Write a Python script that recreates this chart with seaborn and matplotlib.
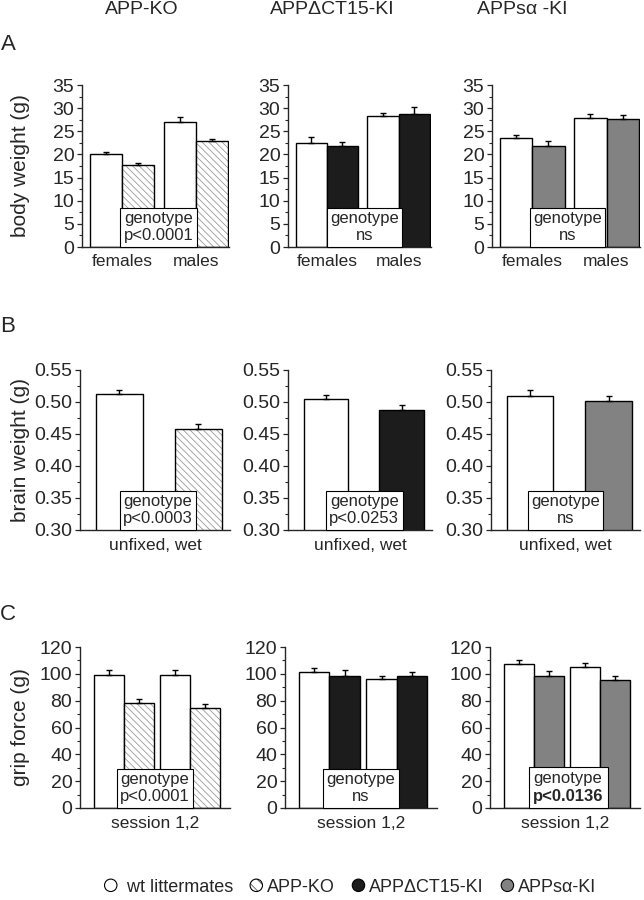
import numpy as np
import pandas as pd
import seaborn as sns
import matplotlib.pyplot as plt
import matplotlib.patches as mpatches
import matplotlib.colors as mcolors
from matplotlib.legend_handler import HandlerPatch
from matplotlib.ticker import MultipleLocator, AutoMinorLocator, FormatStrFormatter

# -----------------------------
# Data (means and SEM)
# -----------------------------
WT = "wt littermates"
mutants = ["APP-KO", "APPΔCT15-KI", "APPsα-KI"]
titles = ["APP-KO", "APPΔCT15-KI", "APPsα -KI"]

sexes = ["females", "males"]
bw_wt = [[20.0, 27.1], [22.4, 28.4], [23.5, 27.8]]
bw_wt_err = [[0.6, 0.9], [1.4, 0.6], [0.7, 1.0]]
bw_mut = [[17.8, 22.9], [21.9, 28.8], [21.9, 27.7]]
bw_mut_err = [[0.45, 0.4], [0.7, 1.4], [0.9, 0.8]]
bw_p = ["p<0.0001", "ns", "ns"]

brain_wt = [0.513, 0.505, 0.5095]
brain_wt_err = [0.0065, 0.006, 0.0085]
brain_mut = [0.458, 0.487, 0.502]
brain_mut_err = [0.007, 0.008, 0.007]
brain_p = ["p<0.0003", "p<0.0253", "ns"]

sessions = ["1", "2"]
grip_wt = [[99.4, 99.4], [101.7, 96.0], [107.6, 105.1]]
grip_wt_err = [[3.2, 3.2], [2.5, 2.5], [2.4, 3.2]]
grip_mut = [[78.3, 74.5], [98.5, 98.5], [98.1, 95.2]]
grip_mut_err = [[2.7, 3.3], [4.2, 2.5], [3.8, 2.9]]
grip_p = ["p<0.0001", "ns", "p<0.0136"]
bold_p = ["p<0.0136"]

palette = {WT: "white", "APP-KO": "white",
           "APPΔCT15-KI": "#1c1c1c", "APPsα-KI": "#828282"}
HATCH = "\\" * 5
HATCH_COLOR = "#9a9a9a"

# -----------------------------
# Style
# -----------------------------
sns.set_style("ticks")
plt.rcParams["font.family"] = ["Liberation Sans", "DejaVu Sans"]
plt.rcParams["hatch.linewidth"] = 0.6

W, H = 644, 900
fig = plt.figure(figsize=(W / 100, H / 100), dpi=100)


def add_ax(left, right, top, bottom):
    return fig.add_axes([left / W, 1 - bottom / H, (right - left) / W, (bottom - top) / H])


def draw_panel(ax, groups, wt_vals, wt_err, mut_vals, mut_err, mutant, width):
    rows = []
    for g, wv, we, mv, me in zip(groups, wt_vals, wt_err, mut_vals, mut_err):
        rows.append(dict(group=g, genotype=WT, value=wv, err=we))
        rows.append(dict(group=g, genotype=mutant, value=mv, err=me))
    df = pd.DataFrame(rows)
    xcol = "group" if len(groups) > 1 else "genotype"
    order = groups if len(groups) > 1 else [WT, mutant]
    sns.barplot(data=df, x=xcol, y="value", hue="genotype", order=order,
                hue_order=[WT, mutant], palette=palette, width=width,
                errorbar=None, legend=False, saturation=1,
                edgecolor="black", linewidth=1.0, ax=ax)
    bars = sorted(ax.patches, key=lambda p: p.get_x())
    for p, (_, r) in zip(bars, df.iterrows()):
        if r.genotype == "APP-KO":
            p.set_hatch(HATCH)
            p._hatch_color = mcolors.to_rgba(HATCH_COLOR)
        cx = p.get_x() + p.get_width() / 2
        ax.errorbar(cx, r.value, yerr=[[0], [r.err]], fmt="none", ecolor="black",
                    elinewidth=1.0, capsize=2, capthick=1.0, zorder=3)
    sns.despine(ax=ax)
    for s in ["left", "bottom"]:
        ax.spines[s].set_linewidth(1.0)
    ax.tick_params(axis="y", which="major", length=3.5, width=0.9, labelsize=14, pad=2)
    ax.tick_params(axis="y", which="minor", length=2, width=0.8)
    ax.tick_params(axis="x", length=0, labelsize=12.5, pad=5)
    ax.set_ylabel("")
    ax.set_xlabel("")


def p_box(ax, xfrac, text):
    if text not in bold_p:
        ax.text(xfrac, 0.022, "genotype\n" + text, transform=ax.transAxes, ha="center",
                va="bottom", fontsize=12, zorder=5,
                bbox=dict(boxstyle="square,pad=0.2", fc="white", ec="black", lw=0.8))
        return
    # bold p-value: white box drawn as a patch, two separate lines on top
    hpx = ax.bbox.height
    wpx = ax.bbox.width
    bw, bh = 79 / wpx, 41 / hpx
    ax.add_patch(mpatches.Rectangle((xfrac - bw / 2, 0), bw, bh, transform=ax.transAxes,
                                    fc="white", ec="black", lw=0.8, zorder=4,
                                    clip_on=False))
    ax.text(xfrac, 29 / hpx, "genotype", transform=ax.transAxes, ha="center",
            va="center", fontsize=12, zorder=5)
    ax.text(xfrac, 11 / hpx, text, transform=ax.transAxes, ha="center",
            va="center", fontsize=12, fontweight="bold", zorder=5)


# -----------------------------
# Row A: body weight
# -----------------------------
rowA = [(82, 229), (288, 431), (492, 640)]
boxA = [0.52, 0.535, 0.51]
for i, (l, r) in enumerate(rowA):
    ax = add_ax(l, r, 85, 247)
    draw_panel(ax, sexes, bw_wt[i], bw_wt_err[i], bw_mut[i], bw_mut_err[i], mutants[i], 0.87)
    ax.set_xlim(-0.54, 1.45)
    ax.set_ylim(0, 35)
    ax.yaxis.set_major_locator(MultipleLocator(5))
    ax.yaxis.set_minor_locator(AutoMinorLocator(2))
    p_box(ax, boxA[i], bw_p[i])

# -----------------------------
# Row B: brain weight
# -----------------------------
rowB = [(80, 230), (288, 432), (491, 640)]
boxB = [0.52, 0.53, 0.50]
for i, (l, r) in enumerate(rowB):
    ax = add_ax(l, r, 370, 530)
    draw_panel(ax, ["all"], [brain_wt[i]], [brain_wt_err[i]], [brain_mut[i]],
               [brain_mut_err[i]], mutants[i], 0.59)
    ax.set_xlim(-0.5, 1.4)
    ax.set_ylim(0.30, 0.55)
    ax.yaxis.set_major_locator(MultipleLocator(0.05))
    ax.yaxis.set_minor_locator(AutoMinorLocator(2))
    ax.yaxis.set_major_formatter(FormatStrFormatter("%.2f"))
    ax.set_xticks([])
    ax.set_xlabel("unfixed, wet", fontsize=12.5, labelpad=6)
    p_box(ax, boxB[i], brain_p[i])

# -----------------------------
# Row C: grip force
# -----------------------------
rowC = [(80, 230), (285, 437), (490, 640)]
boxC = [0.50, 0.50, 0.52]
for i, (l, r) in enumerate(rowC):
    ax = add_ax(l, r, 647, 808)
    draw_panel(ax, sessions, grip_wt[i], grip_wt_err[i], grip_mut[i], grip_mut_err[i],
               mutants[i], 0.9)
    ax.set_xlim(-0.66, 1.6)
    ax.set_ylim(0, 120)
    ax.yaxis.set_major_locator(MultipleLocator(20))
    ax.yaxis.set_minor_locator(AutoMinorLocator(2))
    ax.set_xticks([])
    ax.set_xlabel("session 1,2", fontsize=12.5, labelpad=6)
    p_box(ax, boxC[i], grip_p[i])

# -----------------------------
# Titles, panel letters, y labels
# -----------------------------
for x, t in zip([142, 332, 522], titles):
    fig.text(x / W, 1 - 10 / H, t, ha="center", va="center", fontsize=14)

for y, letter in zip([45, 327, 614], ["A", "B", "C"]):
    fig.text(8 / W, 1 - y / H, letter, ha="center", va="center", fontsize=16)

for y, lab in zip([166, 450, 727], ["body weight (g)", "brain weight (g)", "grip force (g)"]):
    fig.text(21 / W, 1 - y / H, lab, ha="center", va="center", rotation=90, fontsize=15)


# -----------------------------
# Legend with circles
# -----------------------------
class HandlerCircle(HandlerPatch):
    def create_artists(self, legend, orig_handle, xdescent, ydescent, width, height,
                       fontsize, trans):
        c = mpatches.Circle((0.5 * width - xdescent, 0.5 * height - ydescent),
                            radius=0.45 * height)
        self.update_prop(c, orig_handle, legend)
        c.set_hatch(orig_handle.get_hatch())
        c._hatch_color = orig_handle._hatch_color
        c.set_transform(trans)
        return [c]


handles = []
for g in [WT] + mutants:
    c = mpatches.Circle((0, 0), 1, facecolor=palette[g], edgecolor="black", linewidth=0.8)
    if g == "APP-KO":
        c.set_hatch("\\" * 3)
        c._hatch_color = mcolors.to_rgba("#555555")
    handles.append(c)
labels = [" " + WT] + mutants

fig.legend(handles, labels, loc="center", bbox_to_anchor=(350 / W, 1 - 887 / H), ncol=4,
           frameon=False, fontsize=13, handler_map={mpatches.Circle: HandlerCircle()},
           handlelength=0.8, handleheight=0.8, handletextpad=0.2, columnspacing=0.9,
           borderpad=0)

fig.savefig("out.png", dpi=100)
